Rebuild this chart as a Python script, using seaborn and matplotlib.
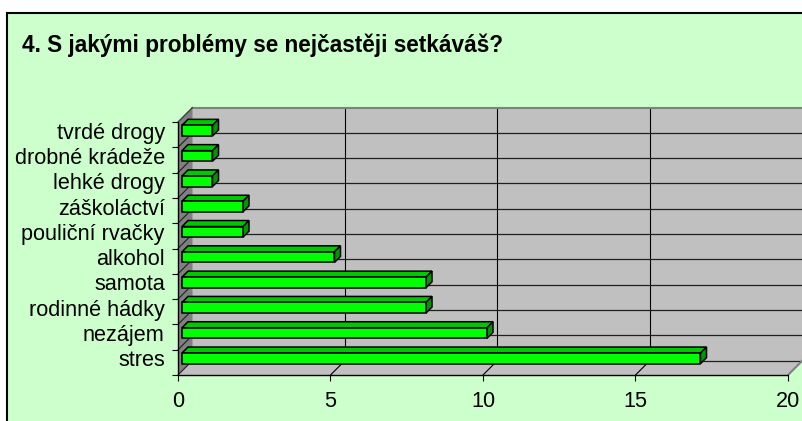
import matplotlib
matplotlib.use("Agg")
import matplotlib.pyplot as plt
import seaborn as sns
import numpy as np
from matplotlib.patches import Polygon, Rectangle
from matplotlib.transforms import offset_copy, IdentityTransform, ScaledTranslation

# categories listed top to bottom, as in the chart
problems = ["tvrdé drogy", "drobné krádeže", "lehké drogy", "záškoláctví",
            "pouliční rvačky", "alkohol", "samota", "rodinné hádky",
            "nezájem", "stres"]
counts = [1, 1, 1, 2, 2, 5, 8, 8, 10, 17]
x_ticks = [0, 5, 10, 15, 20]
title = "4. S jakými problémy se nejčastěji setkáváš?"

sns.set_theme(style="white")
plt.rcParams["font.family"] = ["Liberation Sans", "DejaVu Sans"]

W, H = 803, 421
fig = plt.figure(figsize=(W / 100, H / 100), dpi=100, facecolor="white")

# chart area (light green with black frame)
fig.patches.append(Rectangle((7 / W, -0.1), 1.2, (H - 13) / H + 0.1,
                             transform=fig.transFigure, facecolor="#CCFFCC",
                             edgecolor="black", linewidth=1.5, zorder=-10))

fig.text(22 / W, 1 - 45 / H, title, fontsize=16.3, fontweight="bold",
         ha="left", va="center", color="black")

ax = fig.add_axes([178 / W, 46 / H, 610 / W, 253 / H])
ax.set_facecolor("none")

sns.barplot(x=counts, y=problems, orient="h", ax=ax, color="#00FF00",
            saturation=1, width=0.42, edgecolor="black", linewidth=1.1,
            errorbar=None, zorder=5)
bars = list(ax.patches)

ax.set_xlim(x_ticks[0], x_ticks[-1])
ax.set_ylim(len(problems) - 0.5, -0.5)
for s in ax.spines.values():
    s.set_visible(False)

fig.canvas.draw()

WALL = 14.5   # depth of the floor / side wall in pixels
BF, BB = 4.0, 10.0   # bar front and back depth

def pt(x, y, d=0.0):
    X, Y = ax.transData.transform((x, y))
    return (X + d, Y + d)

def poly(points, fc, ec="none", lw=0.0, z=0):
    ax.add_patch(Polygon(points, closed=True, facecolor=fc, edgecolor=ec,
                         linewidth=lw, transform=IdentityTransform(),
                         clip_on=False, zorder=z))

def line(p0, p1, color="black", lw=0.8, z=1):
    ax.add_line(plt.Line2D([p0[0], p1[0]], [p0[1], p1[1]], color=color,
                           linewidth=lw, transform=IdentityTransform(),
                           clip_on=False, zorder=z))

x0, x1 = ax.get_xlim()
yb, yt = ax.get_ylim()  # yb = bottom (9.5), yt = top (-0.5)

# back wall, floor, side wall
poly([pt(x0, yb, WALL), pt(x1, yb, WALL), pt(x1, yt, WALL), pt(x0, yt, WALL)], "#C0C0C0", z=0)
poly([pt(x0, yb), pt(x1, yb), pt(x1, yb, WALL), pt(x0, yb, WALL)], "#C0C0C0", z=0)
poly([pt(x0, yb), pt(x0, yb, WALL), pt(x0, yt, WALL), pt(x0, yt)], "#808080", z=0)

# back wall vertical gridlines and floor lines
for v in x_ticks[1:-1]:
    line(pt(v, yb, WALL), pt(v, yt, WALL), lw=0.8)
    line(pt(v, yb), pt(v, yb, WALL), lw=0.8)

# category lines on back wall and side wall
for b in np.arange(-0.5, len(problems), 1.0)[1:]:
    line(pt(x0, b, WALL), pt(x1, b, WALL), color="#202020", lw=0.9)
    line(pt(x0, b), pt(x0, b, WALL), color="#202020", lw=0.8)

# edges
line(pt(x0, yt, WALL), pt(x1, yt, WALL), color="#808080", lw=1.5, z=2)
line(pt(x0, yt), pt(x0, yt, WALL), color="#404040", lw=1.0, z=2)
line(pt(x1, yb), pt(x1, yb, WALL), color="#808080", lw=1.5, z=2)
line(pt(x0, yb), pt(x1, yb), color="black", lw=1.0, z=2)
line(pt(x0, yb), pt(x0, yt), color="black", lw=1.0, z=2)

# 3D bars: front face from seaborn, shifted into depth, plus top and side faces
front = offset_copy(ax.transData, fig=fig, x=BF, y=BF, units="dots")
for p in bars:
    bx0, by0 = p.get_x(), p.get_y()
    bx1, by1 = bx0 + p.get_width(), by0 + p.get_height()
    L, T = pt(bx0, by0)
    R, B = pt(bx1, by1)
    top_y = max(T, B)
    bot_y = min(T, B)
    poly([(L + BF, top_y + BF), (R + BF, top_y + BF), (R + BB, top_y + BB), (L + BB, top_y + BB)],
         "#00C800", ec="black", lw=1.1, z=4)
    poly([(R + BF, bot_y + BF), (R + BB, bot_y + BB), (R + BB, top_y + BB), (R + BF, top_y + BF)],
         "#009600", ec="black", lw=1.1, z=4)
    p.set_transform(front)
    p.set_clip_on(False)

# ticks and labels
ax.set_xticks(x_ticks)
ax.set_xticklabels([str(t) for t in x_ticks])
ax.set_yticks(range(len(problems)))
ax.set_yticklabels(problems)
ax.set_yticks(np.arange(-0.5, len(problems), 1.0), minor=True)
ax.tick_params(axis="y", which="major", length=0, pad=9.5, labelsize=15.6, labelcolor="black")
ax.tick_params(axis="y", which="minor", length=4.5, width=0.8, color="black", direction="out", left=True)
ax.tick_params(axis="x", which="major", length=4.5, width=0.8, color="black", direction="out",
               bottom=True, pad=7, labelsize=15.6, labelcolor="black")
ax.set_xlabel("")
ax.set_ylabel("")

# labels sit level with the bar fronts, a little above the front plane
lift = ScaledTranslation(0, BF / 100, fig.dpi_scale_trans)
for lab in ax.get_yticklabels():
    lab.set_transform(lab.get_transform() + lift)

fig.savefig("out.png", dpi=100, facecolor="white")
